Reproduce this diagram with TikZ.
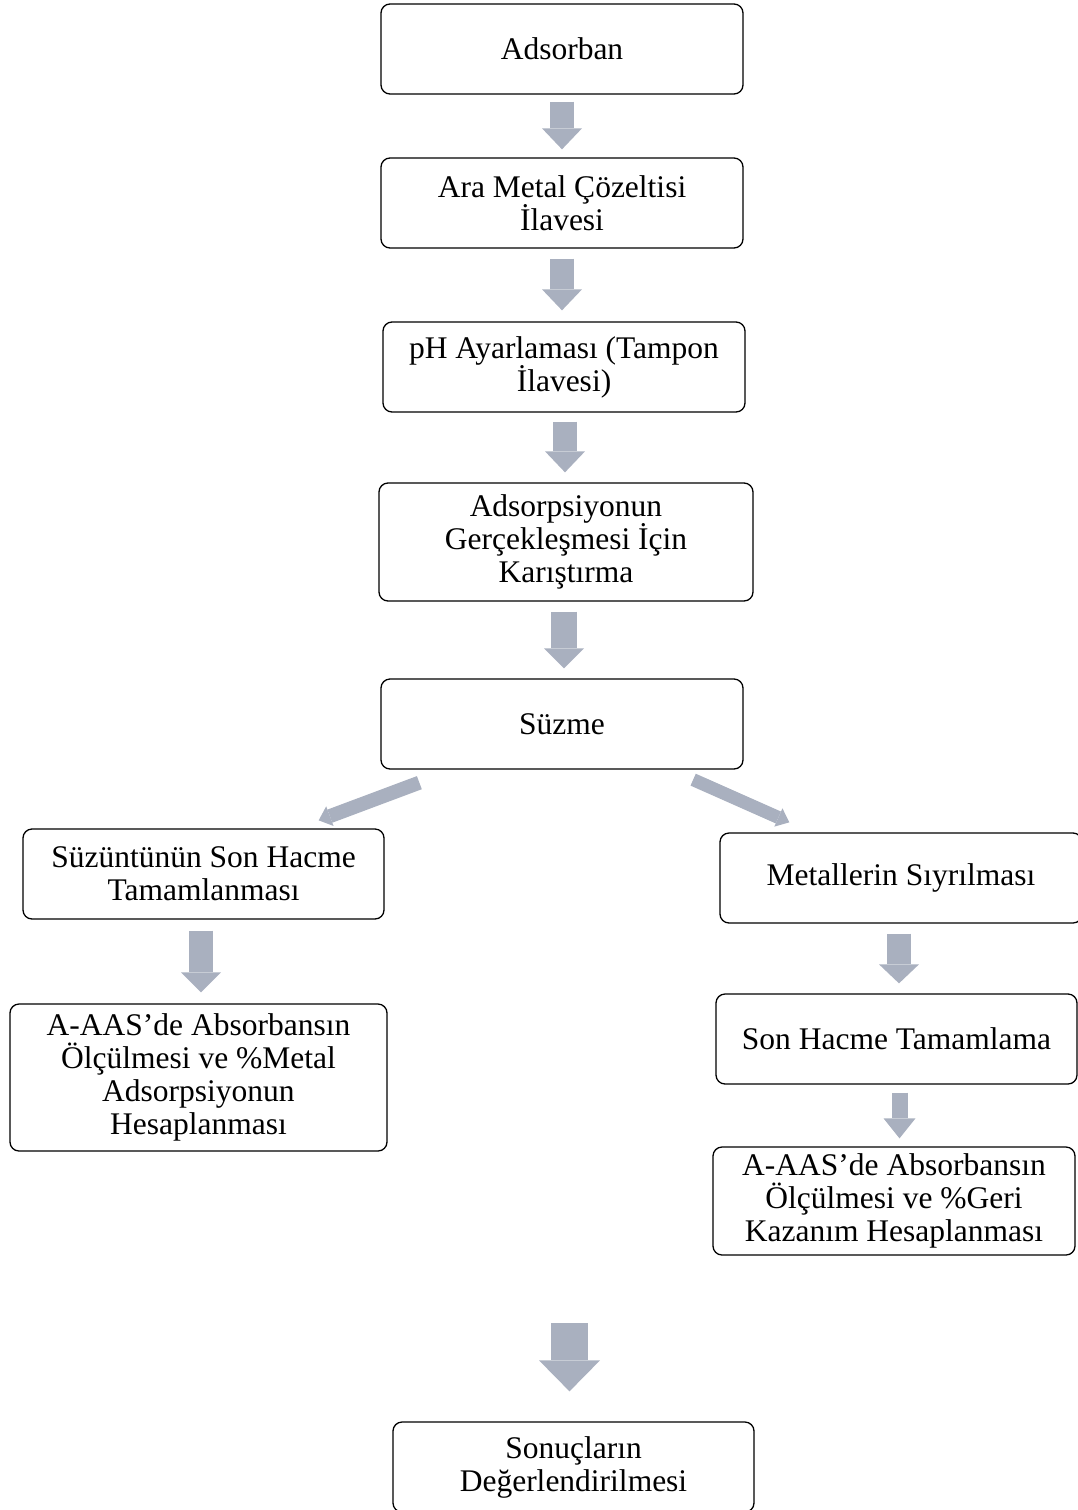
\documentclass[tikz,border=0pt]{standalone}
\usepackage{fontspec}
\setmainfont{Liberation Serif}
\usetikzlibrary{arrows.meta,calc}
\definecolor{arrowgray}{RGB}{169,176,191}
\tikzset{
  box/.style={draw, line width=1.3pt, rounded corners=9pt, minimum width=362pt,
    minimum height=90pt, align=center, font=\fontsize{31.5}{33}\selectfont},
  blockarrow/.style n args={3}{draw=arrowgray, line width=#1,
    -{Triangle[width=#2,length=#3,line width=0pt,fill=arrowgray]}},
  flowarrow/.style={blockarrow={24pt}{40pt}{21pt}}
}
\begin{document}
\begin{tikzpicture}[x=1pt,y=-1pt]
\useasboundingbox (0,0) rectangle (1078,1510);
\clip (0,0) rectangle (1078,1510);
% main column
\node[box] (adsorban) at (562,49) {Adsorban};
\node[box] (arametal) at (562,203) {Ara Metal Çözeltisi\\İlavesi};
\node[box] (ph) at (564,367) {pH Ayarlaması (Tampon\\İlavesi)};
\node[box,minimum width=374pt,minimum height=118pt] (karistirma) at (566,542) {Adsorpsiyonun\\Gerçekleşmesi İçin\\Karıştırma};
\node[box] (suzme) at (562,724) {Süzme};
% left branch
\node[box,minimum width=361pt] (suzuntu) at (203.5,874) {Süzüntünün Son Hacme\\Tamamlanması};
\node[box,minimum width=377pt,minimum height=147pt] (olcumsol) at (198.5,1077.5) {A-AAS’de Absorbansın\\Ölçülmesi ve \%Metal\\Adsorpsiyonun\\Hesaplanması};
% right branch
\node[box] (siyirma) at (901,878) {Metallerin Sıyrılması};
\node[box,minimum width=361pt] (sonhacme) at (896.5,1039) {Son Hacme Tamamlama};
\node[box,minimum height=108pt] (olcumsag) at (894,1201) {A-AAS’de Absorbansın\\Ölçülmesi ve \%Geri\\Kazanım Hesaplanması};
% result
\node[box,minimum width=361pt] (sonuc) at (573.5,1467) {Sonuçların\\Değerlendirilmesi};
% arrows
\draw[flowarrow,shorten <=7pt,shorten >=8pt] (adsorban.south) -- (adsorban.south |- arametal.north);
\draw[flowarrow,shorten <=10pt,shorten >=11pt] (arametal.south) -- (arametal.south |- ph.north);
\draw[flowarrow,shorten <=9pt,shorten >=10pt] ([xshift=1pt]ph.south) -- ([xshift=1pt]ph.south |- karistirma.north);
\draw[blockarrow={26pt}{40pt}{20pt},shorten <=10pt,shorten >=10pt] ([xshift=-2pt]karistirma.south) -- ([xshift=-2pt]karistirma.south |- suzme.north);
\coordinate (solbas) at ([shift={(39pt,-13pt)}]suzme.south west);
\coordinate (solson) at ([shift={(-66pt,8pt)}]suzuntu.north east);
\coordinate (sagbas) at ([shift={(-50.5pt,-10pt)}]suzme.south east);
\coordinate (sagson) at ([shift={(70pt,10pt)}]siyirma.north west);
\draw[blockarrow={14pt}{21pt}{12pt}] (solbas) -- (solson);
\draw[blockarrow={13pt}{20pt}{12pt}] (sagbas) -- (sagson);
\draw[blockarrow={24pt}{40pt}{20pt},shorten <=11pt,shorten >=11pt] ([xshift=-2.5pt]suzuntu.south) -- ([xshift=-2.5pt]suzuntu.south |- olcumsol.north);
\draw[blockarrow={24pt}{40pt}{19pt},shorten <=10pt,shorten >=10pt] ([xshift=-2pt]siyirma.south) -- ([xshift=-2pt]siyirma.south |- sonhacme.north);
\draw[blockarrow={16pt}{32pt}{20pt},shorten <=8pt,shorten >=8pt] ([xshift=3pt]sonhacme.south) -- ([xshift=3pt]sonhacme.south |- olcumsag.north);
\coordinate (sonucgiris) at (569.5,1323);
\draw[blockarrow={37pt}{61pt}{31pt},shorten >=30pt] (sonucgiris) -- (sonucgiris |- sonuc.north);
\end{tikzpicture}
\end{document}
